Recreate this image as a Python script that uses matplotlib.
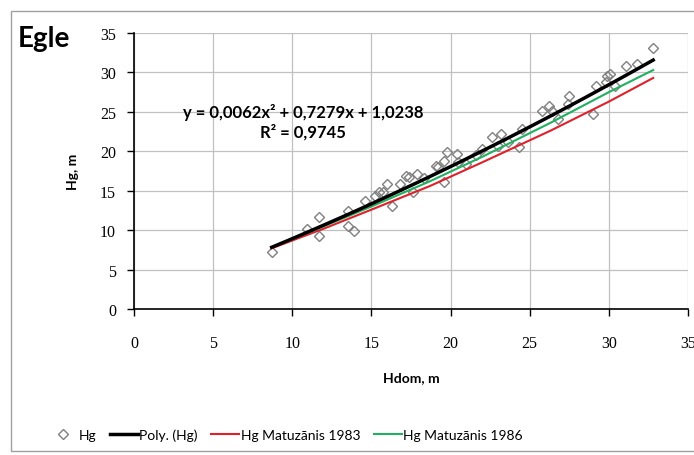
import numpy as np
import matplotlib.pyplot as plt
from matplotlib.patches import Rectangle
from matplotlib.lines import Line2D

# Datos medidos (Hdom, Hg)
hdom = [8.7, 10.9, 11.7, 11.7, 13.5, 13.5, 13.9, 14.6, 15.2, 15.5,
        15.7, 16.0, 16.3, 16.8, 17.2, 17.4, 17.6, 17.9, 18.3, 19.1,
        19.2, 19.6, 19.6, 19.8, 20.4, 20.5, 21.0, 21.6, 22.0, 22.6,
        23.0, 23.2, 23.6, 24.3, 24.5, 25.8, 26.2, 26.4, 26.8, 27.4,
        27.5, 29.0, 29.2, 29.8, 29.9, 30.1, 30.4, 31.1, 31.8, 32.8]
hg = [7.2, 10.1, 11.7, 9.3, 12.4, 10.5, 9.9, 13.7, 14.3, 14.8,
      14.8, 15.9, 13.1, 15.9, 16.9, 16.7, 14.8, 17.1, 16.6, 18.1,
      18.0, 18.8, 16.1, 19.9, 19.7, 18.6, 18.4, 19.5, 20.3, 21.8,
      20.7, 22.2, 21.2, 20.5, 22.8, 25.1, 25.7, 25.1, 24.1, 26.0,
      27.0, 24.7, 28.3, 28.8, 29.5, 29.8, 28.3, 30.8, 31.1, 33.1]

# Coeficientes de la tendencia polinomica mostrada
poly_coef = [0.0062, 0.7279, 1.0238]
poly_range = [8.7, 32.8]

# Curvas de Matuzanis
mat_x = [8.7, 12, 15, 18.7, 22, 26.3, 30, 32.8]
mat_1983 = [7.7, 10.2, 12.6, 15.6, 18.6, 22.6, 26.3, 29.3]
mat_1986 = [7.8, 10.5, 13.0, 16.2, 19.3, 23.6, 27.5, 30.3]

ticks = [0, 5, 10, 15, 20, 25, 30, 35]

W, H = 694, 456
fig = plt.figure(figsize=(W / 100, H / 100), dpi=100)
fig.patches.append(Rectangle((11 / W, 1 - 452 / H), 700 / W, 440 / H,
                             transform=fig.transFigure, fill=False,
                             edgecolor='#a0a0a0', linewidth=1))

ax = fig.add_axes([134 / W, 1 - 310 / H, 554 / W, 276 / H])

xp = np.linspace(poly_range[0], poly_range[1], 100)
ax.plot(xp, np.polyval(poly_coef, xp), color='black', lw=2.5, zorder=4)
ax.plot(mat_x, mat_1983, color='#e0202a', lw=1.5, zorder=3)
ax.plot(mat_x, mat_1986, color='#20b060', lw=1.5, zorder=3)
ax.plot(hdom, hg, linestyle='none', marker='D', markersize=5.5,
        markerfacecolor='none', markeredgecolor='#808080', markeredgewidth=1, zorder=2)

ax.set_xlim(0, 35)
ax.set_ylim(0, 35)
ax.set_xticks(ticks)
ax.set_yticks(ticks)
ax.grid(True, color='#c0c0c0', linewidth=0.9)
ax.set_axisbelow(True)
for s in ['top', 'right']:
    ax.spines[s].set_visible(False)
for s in ['left', 'bottom']:
    ax.spines[s].set_linewidth(1.2)
ax.tick_params(direction='out', length=5, width=1, labelsize=11.5)
ax.tick_params(axis='x', pad=14)
ax.tick_params(axis='y', pad=8)
for lab in ax.get_xticklabels() + ax.get_yticklabels():
    lab.set_fontfamily('Liberation Serif')

ax.set_xlabel('Hdom, m', fontsize=10, fontweight='bold', family='Lato', labelpad=14)
ax.set_ylabel('Hg, m', fontsize=10, fontweight='bold', family='Lato', labelpad=15)

fig.text(18 / W, 1 - 47 / H, 'Egle', fontsize=20, fontweight='bold', family='Lato')

ax.text(10.7, 25.0, 'y = 0,0062x² + 0,7279x + 1,0238', fontsize=12,
        fontweight='bold', family='Lato', ha='center', va='center')
ax.text(10.7, 22.6, 'R² = 0,9745', fontsize=12, fontweight='bold',
        family='Lato', ha='center', va='center')

handles = [
    Line2D([], [], linestyle='none', marker='D', markersize=5,
           markerfacecolor='none', markeredgecolor='#808080'),
    Line2D([], [], color='black', lw=2.5),
    Line2D([], [], color='#e0202a', lw=1.5),
    Line2D([], [], color='#20b060', lw=1.5),
]
labels = ['Hg', 'Poly. (Hg)', 'Hg Matuzānis 1983', 'Hg Matuzānis 1986']
fig.legend(handles, labels, loc='center', bbox_to_anchor=(286 / W, 1 - 436 / H),
           ncol=4, frameon=False, prop={'family': 'Lato', 'size': 10},
           handlelength=2.0, handletextpad=0.1, columnspacing=1.0)

fig.savefig('out.png', dpi=100)
